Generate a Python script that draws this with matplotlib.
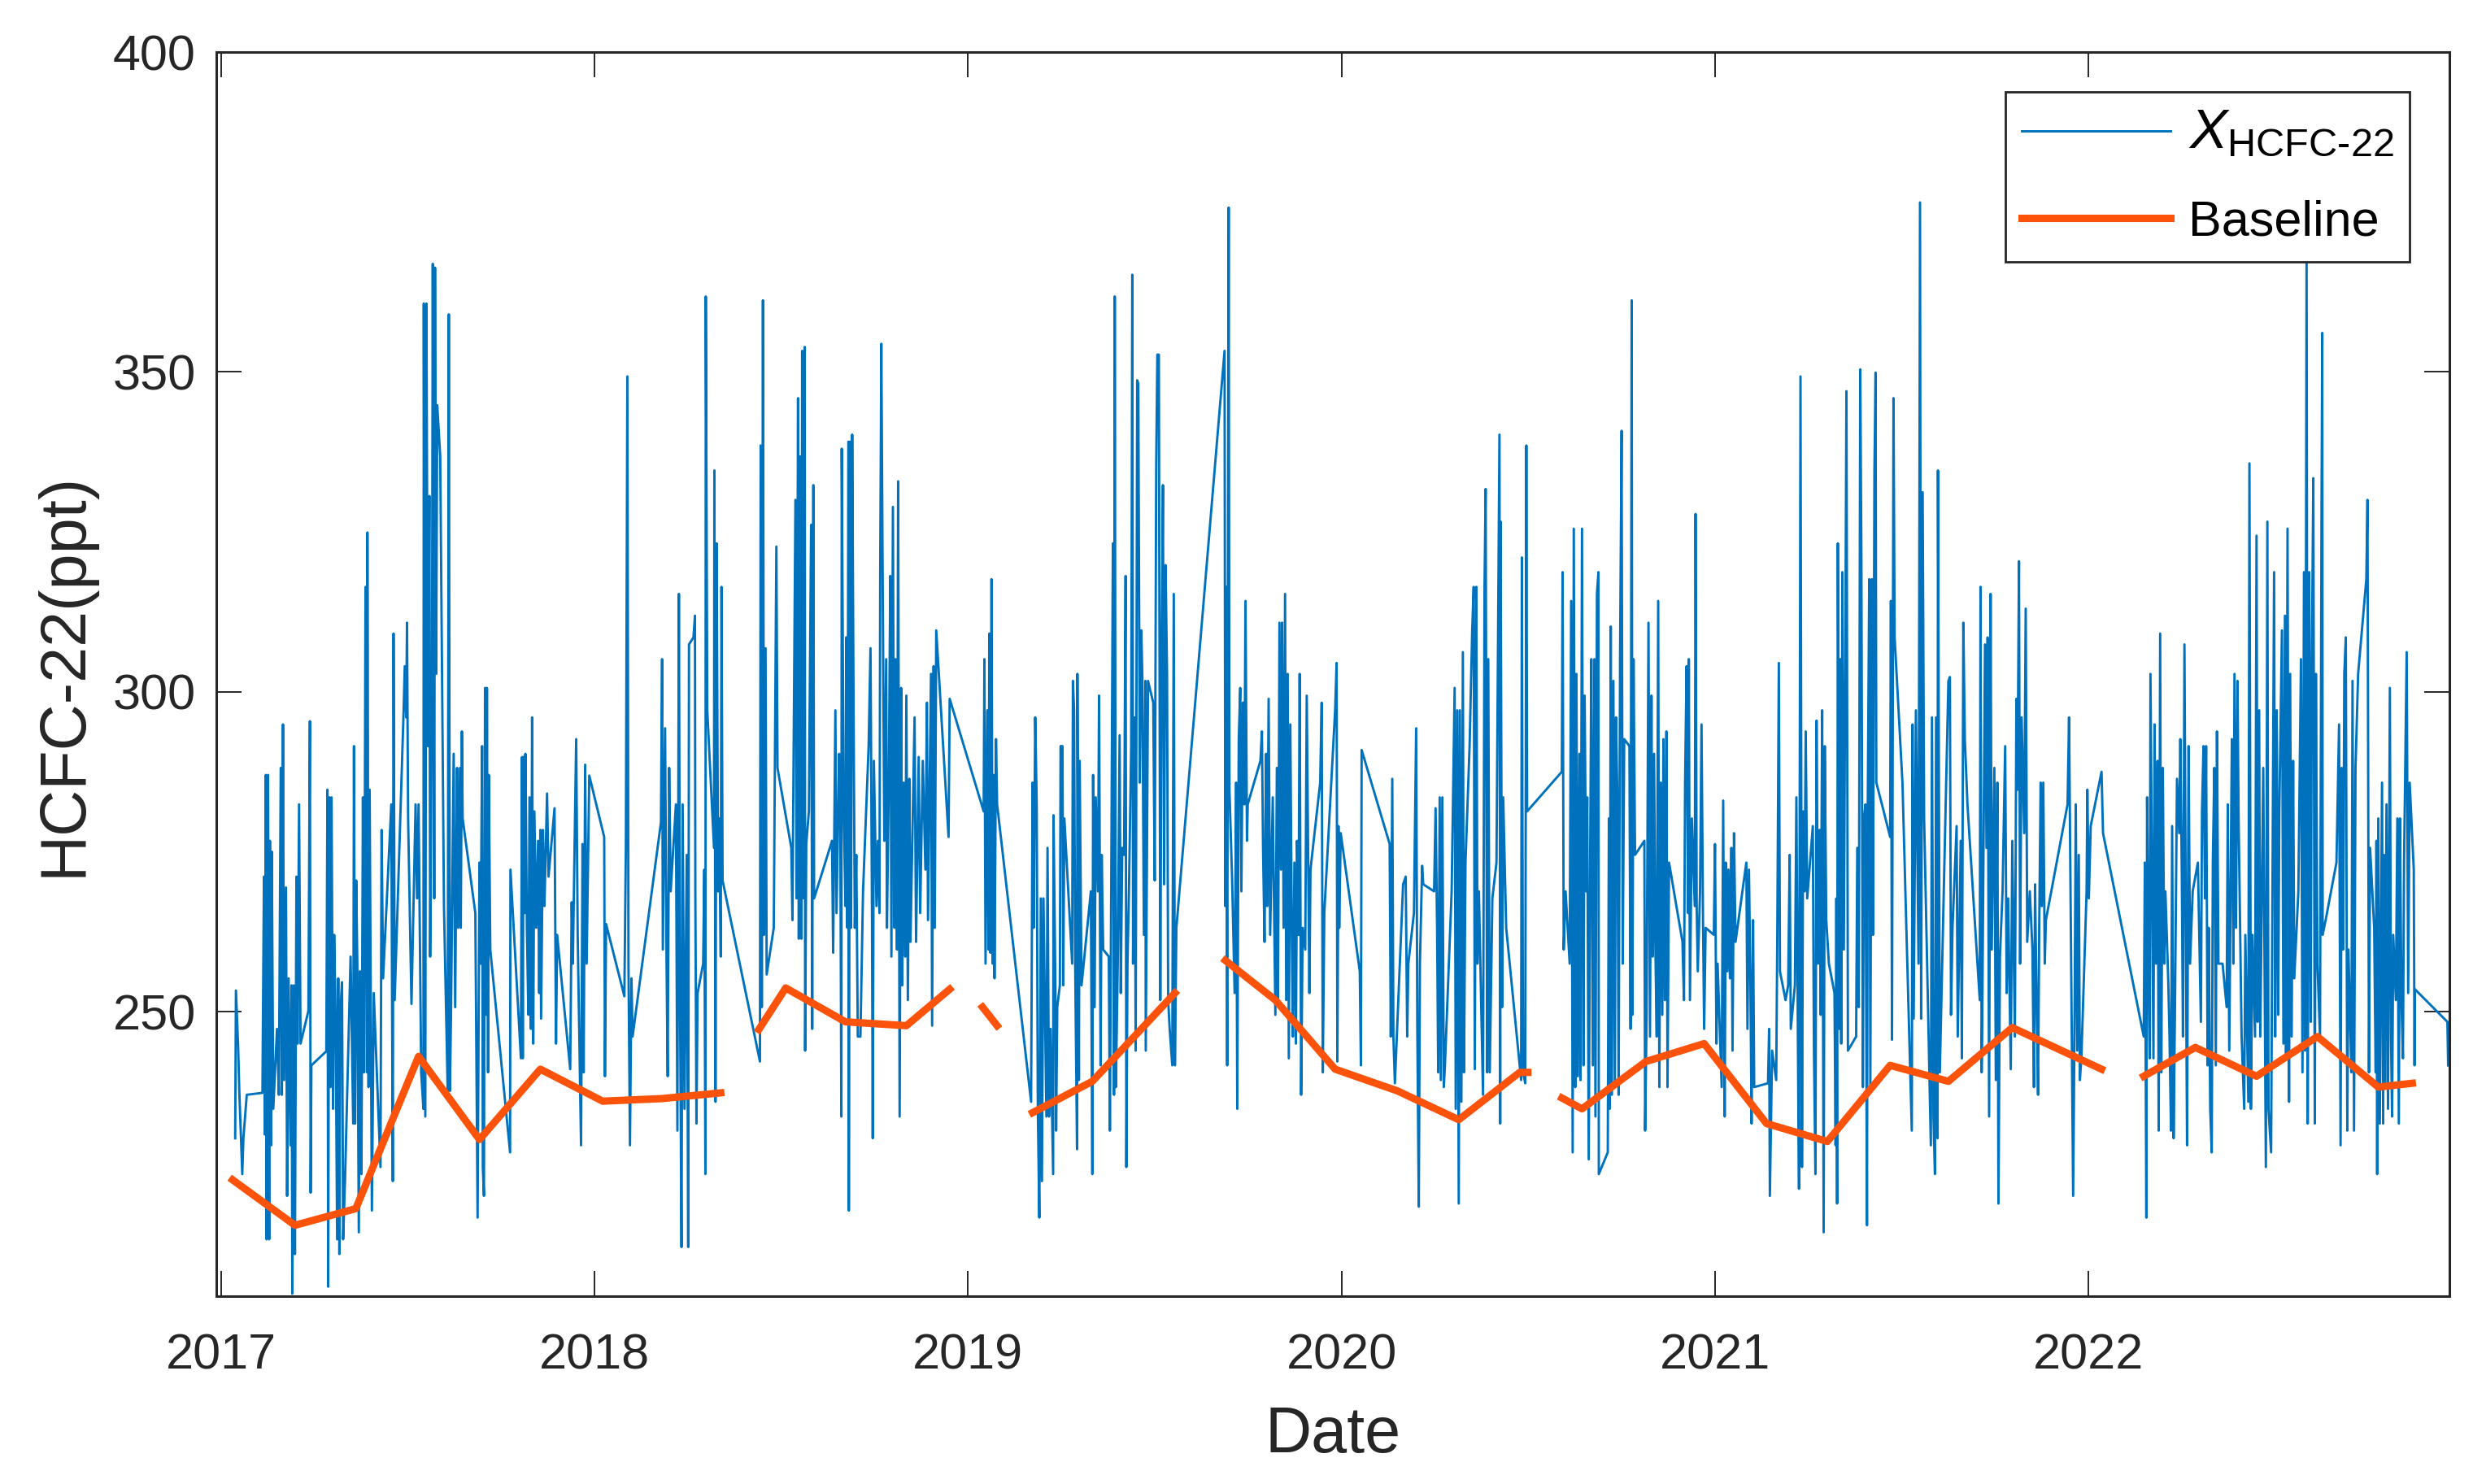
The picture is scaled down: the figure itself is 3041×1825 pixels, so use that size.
import matplotlib
matplotlib.use('Agg')
import matplotlib.pyplot as plt

plt.rcParams['font.family'] = ['Liberation Sans', 'DejaVu Sans']
plt.rcParams['mathtext.fontset'] = 'custom'
plt.rcParams['mathtext.rm'] = 'Liberation Sans'
plt.rcParams['mathtext.it'] = 'Liberation Sans:italic'

obs_year = [
    2017.038, 2017.040, 2017.046, 2017.049, 2017.057, 2017.060, 2017.069, 2017.111, 2017.115, 2017.117,
    2017.120, 2017.122, 2017.126, 2017.129, 2017.131, 2017.134, 2017.136, 2017.140, 2017.150, 2017.155,
    2017.160, 2017.163, 2017.166, 2017.169, 2017.174, 2017.177, 2017.181, 2017.186, 2017.189, 2017.191,
    2017.195, 2017.198, 2017.202, 2017.205, 2017.209, 2017.213, 2017.234, 2017.238, 2017.240, 2017.242,
    2017.282, 2017.285, 2017.287, 2017.290, 2017.293, 2017.296, 2017.300, 2017.303, 2017.307, 2017.311,
    2017.314, 2017.317, 2017.319, 2017.324, 2017.327, 2017.332, 2017.347, 2017.354, 2017.356, 2017.359,
    2017.362, 2017.365, 2017.369, 2017.372, 2017.376, 2017.380, 2017.383, 2017.387, 2017.391, 2017.392,
    2017.395, 2017.398, 2017.404, 2017.409, 2017.427, 2017.430, 2017.434, 2017.456, 2017.460, 2017.462,
    2017.465, 2017.489, 2017.492, 2017.496, 2017.498, 2017.501, 2017.510, 2017.521, 2017.525, 2017.529,
    2017.536, 2017.542, 2017.543, 2017.547, 2017.550, 2017.554, 2017.558, 2017.560, 2017.565, 2017.567,
    2017.571, 2017.573, 2017.576, 2017.579, 2017.587, 2017.597, 2017.607, 2017.610, 2017.613, 2017.616,
    2017.623, 2017.627, 2017.632, 2017.635, 2017.640, 2017.642, 2017.645, 2017.647, 2017.681, 2017.687,
    2017.692, 2017.695, 2017.699, 2017.701, 2017.704, 2017.707, 2017.710, 2017.712, 2017.715, 2017.717,
    2017.721,
    2017.774, 2017.775, 2017.803, 2017.806, 2017.808, 2017.810, 2017.813, 2017.815, 2017.819, 2017.823,
    2017.826, 2017.830, 2017.833, 2017.836, 2017.839, 2017.844, 2017.849, 2017.852, 2017.855, 2017.857,
    2017.862, 2017.866, 2017.873, 2017.877, 2017.893, 2017.897, 2017.900, 2017.935, 2017.939, 2017.942,
    2017.951, 2017.955, 2017.964, 2017.968, 2017.971, 2017.975, 2017.979, 2017.986, 2018.026, 2018.028,
    2018.031, 2018.080, 2018.084, 2018.088, 2018.091, 2018.095, 2018.099, 2018.102, 2018.178, 2018.181,
    2018.183, 2018.189, 2018.193, 2018.196, 2018.200, 2018.204, 2018.218, 2018.222, 2018.226, 2018.229,
    2018.233, 2018.236, 2018.241, 2018.247, 2018.251, 2018.253, 2018.265, 2018.269, 2018.270, 2018.273,
    2018.276, 2018.291, 2018.294, 2018.297, 2018.298, 2018.302, 2018.320, 2018.321, 2018.324, 2018.327,
    2018.331, 2018.334, 2018.338, 2018.340, 2018.343, 2018.443, 2018.445, 2018.448, 2018.451, 2018.454,
    2018.458, 2018.461, 2018.480,
    2018.487, 2018.490, 2018.527, 2018.530, 2018.538, 2018.541, 2018.545, 2018.547, 2018.551, 2018.554,
    2018.556, 2018.559, 2018.563, 2018.564, 2018.567, 2018.574, 2018.580, 2018.583, 2018.586, 2018.588,
    2018.636, 2018.639, 2018.645, 2018.648, 2018.655, 2018.658, 2018.661, 2018.662, 2018.667, 2018.672,
    2018.674, 2018.677, 2018.680, 2018.681, 2018.684, 2018.687, 2018.690, 2018.694, 2018.697, 2018.701,
    2018.705, 2018.712, 2018.719, 2018.734, 2018.739, 2018.743, 2018.745, 2018.748, 2018.755, 2018.759,
    2018.763, 2018.765, 2018.768, 2018.771, 2018.776, 2018.781, 2018.783, 2018.788, 2018.792, 2018.795,
    2018.799, 2018.803, 2018.806, 2018.810, 2018.813, 2018.817, 2018.821, 2018.824, 2018.828, 2018.832,
    2018.835, 2018.839, 2018.843, 2018.846, 2018.857, 2018.861, 2018.868, 2018.872, 2018.879, 2018.886,
    2018.890, 2018.893, 2018.901, 2018.904, 2018.908, 2018.911, 2018.915, 2018.922, 2018.948, 2018.951,
    2019.042, 2019.044, 2019.047, 2019.052, 2019.055, 2019.057, 2019.060, 2019.063, 2019.066, 2019.069,
    2019.071, 2019.075, 2019.078, 2019.169, 2019.173, 2019.176, 2019.180, 2019.184, 2019.187, 2019.191,
    2019.195, 2019.198, 2019.202,
    2019.210, 2019.213, 2019.217, 2019.221, 2019.228, 2019.229, 2019.234, 2019.236, 2019.239, 2019.246,
    2019.248, 2019.253, 2019.255, 2019.258, 2019.279, 2019.281, 2019.284, 2019.287, 2019.292, 2019.293,
    2019.297, 2019.299, 2019.304, 2019.329, 2019.333, 2019.335, 2019.339, 2019.342, 2019.348, 2019.351,
    2019.355, 2019.358, 2019.362, 2019.377, 2019.380, 2019.384, 2019.388, 2019.391, 2019.393, 2019.396,
    2019.401, 2019.406, 2019.409, 2019.413, 2019.418, 2019.422, 2019.424, 2019.427, 2019.431, 2019.437,
    2019.440, 2019.442, 2019.446, 2019.449, 2019.453, 2019.456, 2019.460, 2019.464, 2019.467, 2019.471,
    2019.475, 2019.476, 2019.482, 2019.496, 2019.500, 2019.504, 2019.507, 2019.511, 2019.515, 2019.518,
    2019.522, 2019.525, 2019.529, 2019.533, 2019.536, 2019.540, 2019.547, 2019.551, 2019.554, 2019.558,
    2019.687, 2019.689, 2019.691, 2019.694, 2019.696, 2019.698, 2019.700, 2019.707, 2019.714, 2019.718,
    2019.721, 2019.725, 2019.729, 2019.732, 2019.736, 2019.740, 2019.743, 2019.747, 2019.749, 2019.783,
    2019.787, 2019.790, 2019.794, 2019.798, 2019.801, 2019.805, 2019.809, 2019.816, 2019.823, 2019.827,
    2019.830, 2019.834, 2019.838, 2019.841, 2019.845, 2019.849, 2019.852, 2019.856, 2019.859, 2019.863,
    2019.867, 2019.870, 2019.874, 2019.878, 2019.881, 2019.885, 2019.888, 2019.892, 2019.896, 2019.903,
    2019.907, 2019.914, 2019.917, 2019.943, 2019.947, 2019.950, 2019.954,
    2019.983, 2019.987, 2019.989, 2019.992, 2019.994, 2019.998, 2020.049, 2020.052, 2020.054, 2020.129,
    2020.132, 2020.136, 2020.139, 2020.143, 2020.165, 2020.172, 2020.176, 2020.179, 2020.194, 2020.200,
    2020.203, 2020.207, 2020.210, 2020.216, 2020.219, 2020.248, 2020.252, 2020.256, 2020.259, 2020.263,
    2020.266, 2020.270, 2020.274, 2020.277, 2020.295, 2020.303, 2020.306, 2020.310, 2020.314, 2020.317,
    2020.321, 2020.325, 2020.328, 2020.332, 2020.343, 2020.350, 2020.354, 2020.357, 2020.361, 2020.364,
    2020.368, 2020.379, 2020.383, 2020.386, 2020.390, 2020.393, 2020.397, 2020.404, 2020.415, 2020.423,
    2020.425, 2020.426, 2020.430, 2020.433, 2020.441, 2020.481, 2020.483, 2020.486, 2020.492, 2020.495,
    2020.497, 2020.590, 2020.592, 2020.595, 2020.600, 2020.611, 2020.615, 2020.619, 2020.622, 2020.626,
    2020.629, 2020.633, 2020.637, 2020.640, 2020.644, 2020.648, 2020.651, 2020.655, 2020.658, 2020.662,
    2020.666, 2020.669, 2020.673, 2020.677, 2020.680, 2020.684, 2020.688, 2020.689,
    2020.713, 2020.716, 2020.718, 2020.721, 2020.724, 2020.728, 2020.732, 2020.735, 2020.739, 2020.742,
    2020.746, 2020.750, 2020.753, 2020.757, 2020.771, 2020.774, 2020.777, 2020.779, 2020.782, 2020.786,
    2020.811, 2020.813, 2020.817, 2020.822, 2020.826, 2020.830, 2020.833, 2020.837, 2020.840, 2020.844,
    2020.848, 2020.851, 2020.855, 2020.859, 2020.862, 2020.866, 2020.870, 2020.873, 2020.877, 2020.913,
    2020.917, 2020.920, 2020.924, 2020.928, 2020.930, 2020.933, 2020.938, 2020.946, 2020.948, 2020.951,
    2020.954, 2020.960, 2020.964, 2020.968, 2020.971, 2020.975, 2020.997, 2021.000, 2021.004, 2021.007,
    2021.018, 2021.022, 2021.026, 2021.029, 2021.033, 2021.036, 2021.040, 2021.044, 2021.047, 2021.051,
    2021.055, 2021.084, 2021.087, 2021.091, 2021.095, 2021.098, 2021.102, 2021.105, 2021.142, 2021.145,
    2021.147, 2021.153, 2021.164, 2021.167, 2021.171, 2021.174, 2021.189, 2021.196, 2021.200, 2021.203,
    2021.214, 2021.218, 2021.222, 2021.225, 2021.229, 2021.233, 2021.236, 2021.240, 2021.243, 2021.247,
    2021.262, 2021.265, 2021.269, 2021.272, 2021.276, 2021.280, 2021.283, 2021.287, 2021.291, 2021.294,
    2021.298, 2021.305, 2021.320, 2021.323, 2021.325, 2021.327, 2021.329, 2021.333, 2021.336, 2021.338,
    2021.341, 2021.345, 2021.349, 2021.352, 2021.356, 2021.378, 2021.381, 2021.385, 2021.389, 2021.392,
    2021.396, 2021.399, 2021.403, 2021.407, 2021.409, 2021.413, 2021.416, 2021.420, 2021.423, 2021.427,
    2021.430, 2021.432, 2021.447,
    2021.469, 2021.471, 2021.474, 2021.478, 2021.481, 2021.502, 2021.527, 2021.529, 2021.532, 2021.538,
    2021.545, 2021.549, 2021.552, 2021.556, 2021.560, 2021.578, 2021.581, 2021.585, 2021.589, 2021.592,
    2021.596, 2021.597, 2021.602, 2021.625, 2021.629, 2021.632, 2021.636, 2021.647, 2021.650, 2021.658,
    2021.661, 2021.665, 2021.669, 2021.676, 2021.709, 2021.711, 2021.714, 2021.716, 2021.723, 2021.727,
    2021.730, 2021.734, 2021.738, 2021.741, 2021.748, 2021.752, 2021.756, 2021.759, 2021.763, 2021.770,
    2021.777, 2021.781, 2021.785, 2021.792, 2021.796, 2021.803, 2021.807, 2021.810, 2021.814, 2021.817,
    2021.821, 2021.828, 2021.832, 2021.836, 2021.843, 2021.850, 2021.854, 2021.857, 2021.861, 2021.865,
    2021.868, 2021.872, 2021.875, 2021.879, 2021.883, 2021.886, 2021.944, 2021.948, 2021.952, 2021.959,
    2021.963, 2021.966, 2021.970, 2021.974, 2021.977, 2021.981, 2021.995, 2021.997, 2022.001, 2022.006,
    2022.035, 2022.039, 2022.148, 2022.151, 2022.155, 2022.157, 2022.161, 2022.164, 2022.166,
    2022.174, 2022.177, 2022.181, 2022.185, 2022.188, 2022.192, 2022.195, 2022.199, 2022.203, 2022.206,
    2022.214, 2022.217, 2022.221, 2022.224, 2022.228, 2022.232, 2022.237, 2022.243, 2022.246, 2022.250,
    2022.253, 2022.257, 2022.261, 2022.264, 2022.268, 2022.272, 2022.279, 2022.293, 2022.301, 2022.304,
    2022.308, 2022.312, 2022.315, 2022.319, 2022.322, 2022.326, 2022.330, 2022.333, 2022.337, 2022.341,
    2022.344, 2022.348, 2022.359, 2022.370, 2022.373, 2022.377, 2022.384, 2022.388, 2022.391, 2022.395,
    2022.399, 2022.402, 2022.410, 2022.417, 2022.420, 2022.428, 2022.431, 2022.435, 2022.439, 2022.446,
    2022.450, 2022.453, 2022.457, 2022.460, 2022.468, 2022.475, 2022.479, 2022.482, 2022.489, 2022.497,
    2022.500, 2022.504, 2022.508, 2022.511, 2022.518, 2022.522, 2022.526, 2022.529, 2022.533, 2022.537,
    2022.540, 2022.544, 2022.548, 2022.551, 2022.562, 2022.569, 2022.573, 2022.577, 2022.580, 2022.584,
    2022.587, 2022.591, 2022.595, 2022.598, 2022.602, 2022.606, 2022.609, 2022.613, 2022.620, 2022.624,
    2022.626, 2022.627, 2022.635, 2022.664, 2022.671, 2022.675, 2022.678, 2022.682, 2022.685, 2022.689,
    2022.693, 2022.696, 2022.704, 2022.707, 2022.711, 2022.715, 2022.722, 2022.744, 2022.747, 2022.751,
    2022.754, 2022.765, 2022.769, 2022.771, 2022.773, 2022.776, 2022.780, 2022.786, 2022.789, 2022.791,
    2022.794, 2022.798, 2022.802, 2022.807, 2022.810, 2022.813, 2022.816, 2022.823, 2022.827, 2022.831,
    2022.834, 2022.838, 2022.842, 2022.845, 2022.852, 2022.856, 2022.860, 2022.871, 2022.873, 2022.874,
    2022.961, 2022.963,
]
obs_ppt = [
    230.2, 253.3, 244.4, 237.6, 224.6, 230.2, 237.0, 237.3, 271.1, 230.8,
    287.0, 214.4, 287.0, 214.4, 276.7, 229.1, 275.0, 234.8, 247.3, 237.0,
    288.1, 237.0, 294.9, 239.3, 269.4, 221.2, 255.2, 229.1, 254.1, 205.9,
    254.1, 212.1, 271.1, 245.0, 282.4, 245.0, 250.1, 295.4, 221.7, 241.6,
    243.8, 284.7, 207.0, 283.5, 238.2, 283.5, 234.8, 262.0, 248.4, 214.4,
    255.2, 212.1, 249.5, 254.6, 214.4, 223.5, 258.6, 232.5, 291.5, 232.5,
    270.5, 257.5, 215.5, 256.3, 224.6, 283.5, 240.5, 316.4, 240.5, 324.9,
    238.2, 284.7, 218.9, 252.9, 225.7, 278.4, 255.2, 282.4, 223.5, 309.1,
    251.8, 297.1, 304.0, 296.0, 310.8, 280.2, 251.2, 282.4, 267.7, 282.4,
    240.5, 234.8, 360.7, 233.6, 360.7, 291.5, 330.6, 258.6, 302.8, 366.9,
    267.7, 366.3, 302.8, 344.8, 336.8, 266.5, 237.6, 359.0, 237.6, 250.7,
    290.3, 250.7, 288.1, 263.1, 288.1, 263.1, 293.8, 280.2, 265.4, 217.8,
    273.3, 257.5, 291.5, 225.7, 221.2, 300.6, 249.5, 300.6, 240.5, 287.0,
    259.7,
    228.0, 272.2, 242.7, 289.8, 242.7, 289.8, 265.4, 290.3, 263.1, 249.5,
    283.5, 247.3, 296.0, 245.0, 281.3, 263.1, 276.7, 252.9, 278.4, 248.9,
    278.4, 266.5, 284.1, 271.1, 281.8, 245.0, 262.0, 241.0, 267.1, 257.5,
    292.6, 262.0, 229.1, 276.2, 240.5, 288.6, 257.5, 286.9, 277.3, 239.9,
    263.7, 252.4, 275.6, 349.3, 257.5, 229.1, 255.2, 246.1, 279.6, 305.1,
    259.7, 294.3, 257.5, 239.9, 288.1, 268.8, 282.4, 231.4, 315.3, 251.8,
    213.2, 282.4, 234.8, 274.5, 213.2, 307.4, 308.5, 311.9, 268.8, 232.5,
    252.9, 257.5, 272.2, 224.6, 361.8, 297.1, 275.6, 334.6, 235.9, 323.2,
    268.8, 280.2, 258.6, 316.4, 270.5, 242.2, 338.5, 250.7, 361.2, 262.0,
    306.8, 255.8, 263.1,
    322.7, 288.1, 275.6, 264.3, 330.0, 267.7, 345.9, 261.4, 336.8, 261.4,
    353.3, 267.7, 353.9, 243.9, 276.2, 281.3, 326.1, 247.3, 332.3, 267.7,
    276.7, 259.2, 297.1, 265.4, 290.3, 281.3, 233.6, 338.0, 282.4, 266.5,
    308.5, 263.1, 339.1, 218.9, 339.1, 263.1, 340.2, 293.8, 263.1, 274.5,
    246.1, 246.1, 268.8, 291.5, 306.8, 265.4, 230.2, 289.2, 266.5, 276.7,
    265.4, 318.7, 354.4, 323.2, 276.7, 305.1, 263.1, 285.8, 318.1, 258.6,
    328.9, 263.1, 305.1, 259.7, 332.9, 233.6, 300.6, 254.1, 285.8, 258.6,
    299.4, 251.8, 286.4, 260.9, 296.0, 260.9, 289.8, 265.4, 289.2, 272.2,
    298.3, 264.3, 302.8, 247.8, 304.0, 263.1, 309.6, 302.8, 277.3, 298.9,
    281.3, 305.1, 257.5, 297.1, 259.7, 309.1, 259.2, 317.6, 257.5, 287.0,
    255.2, 292.6, 282.4, 235.9, 285.8, 263.1, 296.0, 282.4, 234.8, 217.8,
    267.7, 223.5, 267.7,
    233.6, 275.6, 233.6, 247.3, 224.6, 280.7, 254.1, 231.4, 250.7, 254.1,
    291.5, 291.5, 254.1, 280.2, 257.5, 301.7, 297.1, 257.5, 228.5, 302.8,
    239.3, 289.2, 254.1, 268.8, 224.6, 287.0, 250.7, 283.5, 268.8, 299.4,
    241.6, 274.5, 259.7, 258.6, 231.4, 274.5, 323.2, 237.0, 361.8, 238.2,
    257.5, 293.2, 252.9, 275.6, 274.5, 318.1, 225.7, 257.5, 268.8, 291.5,
    365.2, 257.5, 296.0, 243.9, 348.7, 348.2, 285.8, 309.6, 301.7, 262.0,
    301.7, 243.9, 301.7, 298.3, 270.5, 335.7, 352.7, 352.7, 251.8, 301.7,
    332.3, 269.9, 319.8, 302.8, 251.8, 247.3, 241.6, 315.3, 241.6, 263.1,
    353.3, 266.5, 316.4, 241.6, 316.4, 375.7, 284.7, 271.1, 252.9, 285.8,
    234.8, 292.6, 300.6, 268.8, 298.3, 282.4, 314.2, 276.7, 282.4, 289.2,
    293.8, 275.6, 260.9, 290.3, 266.5, 298.9, 262.0, 283.5, 249.5, 288.1,
    251.8, 310.8, 272.2, 310.8, 263.1, 315.3, 251.8, 302.8, 242.7, 294.9,
    262.0, 246.1, 273.3, 245.0, 276.7, 262.0, 302.8, 237.0, 263.1, 259.7,
    299.4, 252.9, 272.2, 285.8, 298.3, 240.5, 265.4,
    297.1, 304.5, 242.2, 279.0, 263.1, 277.9, 256.3, 241.6, 290.9, 276.2,
    246.1, 286.4, 246.1, 238.8, 269.9, 271.1, 246.1, 257.5, 265.4, 294.3,
    247.8, 219.5, 257.5, 272.8, 269.9, 268.8, 281.8, 263.1, 240.5, 283.5,
    239.3, 283.5, 238.2, 241.6, 268.8, 300.6, 234.8, 297.1, 220.0, 297.1,
    235.9, 306.2, 240.5, 273.3, 291.5, 309.6, 316.4, 241.0, 316.4, 257.5,
    268.8, 237.0, 316.4, 331.7, 240.5, 305.1, 240.5, 267.7, 273.3, 340.2,
    232.5, 326.6, 250.7, 283.5, 263.1, 239.3, 321.0, 240.5, 238.8, 338.5,
    281.3, 287.5, 318.7, 259.7, 268.8, 257.5, 314.2, 228.0, 325.5, 238.2,
    302.8, 239.9, 290.3, 239.3, 325.5, 241.6, 299.4, 268.8, 283.5, 226.9,
    275.6, 305.1, 241.6, 305.1, 233.6, 315.3, 318.7, 224.6,
    228.0, 280.2, 234.8, 310.2, 237.0, 301.7, 238.2, 296.0, 282.4, 237.0,
    306.2, 340.8, 257.5, 292.6, 291.5, 247.3, 361.2, 249.5, 305.1, 274.5,
    276.7, 231.4, 249.5, 310.8, 246.1, 299.4, 258.6, 290.3, 262.0, 246.1,
    314.2, 238.2, 285.8, 249.5, 292.6, 251.8, 293.8, 238.2, 273.3, 260.9,
    251.8, 285.8, 304.0, 265.4, 305.1, 251.8, 280.2, 266.5, 327.8, 266.5,
    256.3, 268.8, 294.9, 264.3, 247.3, 263.1, 262.0, 276.2, 245.0, 257.5,
    238.2, 283.0, 233.6, 273.3, 256.3, 272.2, 255.2, 275.6, 243.9, 277.9,
    260.9, 273.3, 247.3, 272.2, 254.1, 232.5, 264.3, 238.2, 238.8, 247.3,
    221.2, 243.9, 239.3, 263.1, 304.5, 256.3, 251.8, 254.1, 274.5, 247.3,
    254.1, 283.5, 246.1, 222.3, 349.3, 225.7, 281.3, 268.8, 293.8, 267.7,
    279.0, 243.9, 224.6, 295.5, 257.5, 278.4, 249.5, 297.1, 215.5, 291.5,
    264.3, 257.5, 252.9, 229.1, 267.7, 220.0, 323.2, 247.3, 305.1, 245.0,
    318.7, 259.7, 306.2, 347.0, 243.9, 246.1, 275.6, 250.7, 350.4, 321.0,
    238.2, 280.2, 282.4, 216.6, 281.3, 317.6, 238.2, 317.6, 262.0, 334.6,
    349.9, 285.8, 282.4,
    277.3, 314.2, 245.6, 345.9, 308.5, 285.8, 231.4, 294.9, 248.9, 297.1,
    257.5, 376.5, 248.9, 331.2, 280.2, 229.1, 296.0, 233.6, 224.6, 296.0,
    230.2, 334.6, 240.5, 301.7, 302.3, 249.5, 263.1, 279.0, 246.1, 276.7,
    242.7, 310.8, 292.6, 282.4, 251.8, 316.4, 240.5, 251.8, 307.4, 275.6,
    308.5, 233.6, 315.3, 259.7, 288.1, 239.3, 285.8, 220.0, 258.6, 268.8,
    291.5, 252.9, 267.7, 241.0, 276.7, 246.1, 298.9, 284.7, 320.4, 257.5,
    296.0, 277.9, 313.0, 260.9, 268.8, 259.7, 238.2, 269.9, 251.8, 237.0,
    262.0, 285.8, 266.5, 285.8, 257.5, 264.3, 282.4, 296.0, 268.8, 221.2,
    250.7, 282.4, 243.9, 274.5, 239.3, 242.7, 268.8, 284.7, 267.7, 279.0,
    287.5, 277.9, 246.1, 273.3, 217.8, 283.5, 257.5, 242.7, 302.8,
    242.7, 294.9, 257.5, 289.2, 231.4, 309.1, 240.5, 288.1, 257.5, 268.8,
    254.1, 246.1, 231.4, 279.0, 230.2, 252.9, 286.4, 277.9, 292.6, 271.1,
    246.1, 307.4, 259.7, 229.1, 291.5, 257.5, 268.8, 273.3, 248.4, 281.3,
    291.5, 267.7, 291.5, 241.6, 263.1, 234.8, 228.0, 273.3, 288.1, 241.6,
    293.8, 257.5, 257.5, 250.7, 282.4, 243.9, 292.6, 257.5, 302.8, 263.1,
    301.7, 280.2, 246.1, 234.8, 262.0, 235.9, 335.7, 234.8, 262.0, 246.1,
    324.4, 248.4, 297.1, 246.1, 288.1, 225.7, 326.6, 234.8, 228.0, 318.7,
    246.1, 297.1, 249.5, 281.3, 309.6, 245.0, 311.9, 242.7, 325.5, 235.9,
    302.8, 246.1, 289.2, 255.2, 268.8, 305.1, 240.5, 318.7, 243.9, 367.5,
    232.5, 318.7, 248.4, 303.9, 333.4, 232.5, 302.8, 257.5, 246.1, 327.8,
    356.1, 262.0, 264.3, 273.3, 294.9, 229.1, 288.1, 259.7, 302.8, 308.5,
    231.4, 259.7, 240.5, 301.7, 231.4, 288.1, 302.8, 317.6, 330.0, 240.5,
    275.6, 263.1, 240.5, 276.7, 224.6, 280.2, 232.5, 285.8, 232.5, 274.5,
    238.2, 282.4, 234.8, 300.6, 246.1, 233.6, 262.0, 251.8, 280.2, 232.5,
    280.2, 251.8, 242.7, 273.3, 306.2, 252.9, 285.8, 272.2, 241.6, 253.5,
    248.4, 241.6,
]

# fitted baseline (nan = gap in the baseline)
nan = float('nan')
base_year = [2017.031, 2017.198, 2017.361, 2017.529, 2017.692, 2017.855, 2018.022, 2018.180, 2018.338, nan,
             2018.440, 2018.512, 2018.672, 2018.835, 2018.951, nan,
             2019.039, 2019.078, nan,
             2019.173, 2019.333, 2019.554, nan,
             2019.689, 2019.823, 2019.983, 2020.150, 2020.314, 2020.477, 2020.499, nan,
             2020.590, 2020.644, 2020.815, 2020.971, 2021.138, 2021.301, 2021.469, 2021.625, 2021.796, 2022.035, nan,
             2022.148, 2022.286, 2022.450, 2022.613, 2022.776, 2022.867]
base_ppt = [223.7, 216.6, 219.2, 243.0, 230.0, 241.0, 236.0, 236.4, 237.3, nan,
            247.2, 253.7, 248.4, 247.8, 253.5, nan,
            250.7, 247.8, nan,
            234.2, 239.1, 252.9, nan,
            258.0, 251.8, 241.0, 237.6, 233.1, 240.5, 240.5, nan,
            236.5, 234.8, 242.2, 245.0, 232.5, 229.7, 241.6, 239.1, 247.5, 241.0, nan,
            239.9, 244.4, 239.9, 246.1, 238.2, 238.8]

xtick_years = [2017, 2018, 2019, 2020, 2021, 2022]
ytick_vals = [250, 300, 350, 400]

fig = plt.figure(figsize=(30.41, 18.25), dpi=100)
ax = fig.add_axes([0.0874, 0.1265, 0.9030, 0.8384])

ax.plot(obs_year, obs_ppt, color='#0072BD', lw=2.1, label=r'$X_{\text{HCFC-22}}$')
ax.plot(base_year, base_ppt, color='#FC520A', lw=6.5, label='Baseline')

ax.set_xlim(2016.987, 2022.966)
ax.set_ylim(205.5, 400)
ax.set_xticks(xtick_years)
ax.set_xticklabels([str(y) for y in xtick_years])
ax.set_yticks(ytick_vals)

ax.tick_params(direction='in', length=22, width=1.4, labelsize=44,
               colors='#262626', top=True, right=True)
ax.tick_params(axis='x', pad=33)
ax.tick_params(axis='y', pad=18)
for s in ax.spines.values():
    s.set_linewidth(2.2)
    s.set_color('#262626')

ax.set_xlabel('Date', fontsize=57, labelpad=22, color='#262626')
ax.set_ylabel('HCFC-22(ppt)', fontsize=57, labelpad=16, color='#262626')

leg = ax.legend(loc='upper right', fontsize=44, fancybox=False, edgecolor='#262626',
                framealpha=1, borderaxespad=0.8, handlelength=3.0, handletextpad=0.35,
                labelspacing=0.8, borderpad=0.32)
leg.get_frame().set_linewidth(2)
leg.get_texts()[0].set_fontsize(50)

fig.savefig('out.png', dpi=100)
